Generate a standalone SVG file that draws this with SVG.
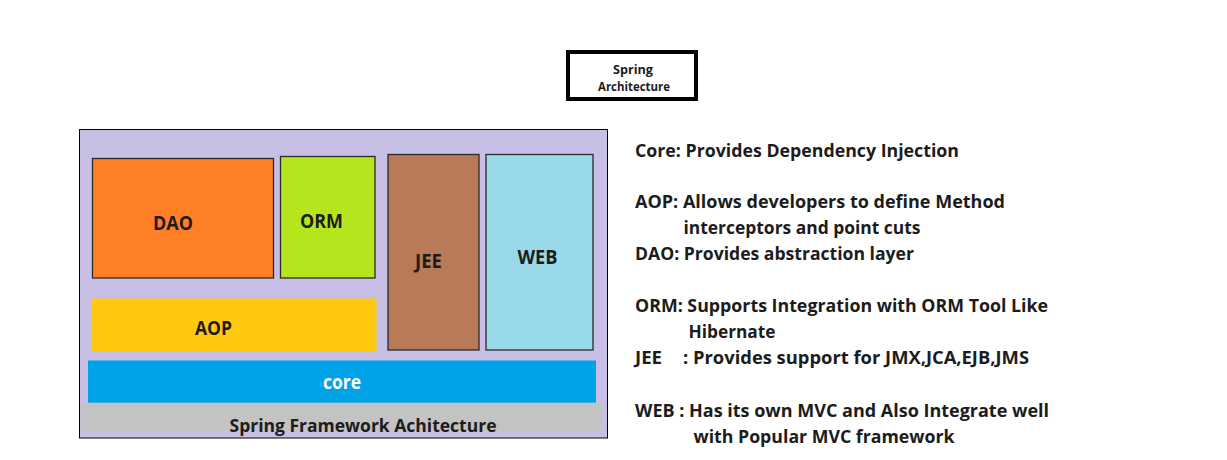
<svg xmlns="http://www.w3.org/2000/svg" width="1227" height="460" viewBox="0 0 1227 460">
<style>
text{font-family:"Open Sans","Noto Sans","Liberation Sans",sans-serif;font-weight:700;fill:#1c1c1c}
.lbl{font-size:20px;text-anchor:middle}
.desc{font-size:17px}
.ttl{font-size:12.5px;text-anchor:middle}
.box{stroke:#2a2a2a;stroke-width:1.3}
</style>
<rect x="0" y="0" width="1227" height="460" fill="#ffffff"/>
<g id="title">
<rect x="568" y="52" width="128" height="47" fill="#ffffff" stroke="#000000" stroke-width="4"/>
<text class="ttl" x="633" y="74" textLength="40" lengthAdjust="spacingAndGlyphs">Spring</text>
<text class="ttl" x="634" y="91" textLength="72" lengthAdjust="spacingAndGlyphs">Architecture</text>
</g>
<g id="frame">
<rect x="79.5" y="129.5" width="528" height="308.5" fill="#C8BFE7" stroke="#000000" stroke-width="1"/>
</g>
<g id="footer">
<rect x="80.5" y="402.7" width="521" height="28" fill="#C3C3C3"/>
<text class="lbl" x="363" y="431.5" style="font-size:18px" textLength="267" lengthAdjust="spacingAndGlyphs">Spring Framework Achitecture</text>
</g>
<g id="core">
<rect x="88" y="360.5" width="508" height="42.2" fill="#00A2E8"/>
<text class="lbl" x="342" y="389" style="fill:#ffffff" textLength="38" lengthAdjust="spacingAndGlyphs">core</text>
</g>
<g id="aop">
<rect x="91" y="298.5" width="285.5" height="52.5" fill="#FFC90E"/>
<text class="lbl" x="213.5" y="335" textLength="37" lengthAdjust="spacingAndGlyphs">AOP</text>
</g>
<g id="dao">
<rect class="box" x="92.5" y="158.5" width="181" height="119.5" fill="#FF7F27"/>
<text class="lbl" x="173" y="230" textLength="40" lengthAdjust="spacingAndGlyphs">DAO</text>
</g>
<g id="orm">
<rect class="box" x="280.5" y="156.5" width="94.5" height="121.5" fill="#B5E61D"/>
<text class="lbl" x="321.5" y="228" textLength="43" lengthAdjust="spacingAndGlyphs">ORM</text>
</g>
<g id="jee">
<rect class="box" x="388" y="154.5" width="91" height="195.5" fill="#B97A57"/>
<text class="lbl" x="428.5" y="268" textLength="27" lengthAdjust="spacingAndGlyphs">JEE</text>
</g>
<g id="web">
<rect class="box" x="486" y="154.5" width="107" height="195.5" fill="#99D9EA"/>
<text class="lbl" x="537.5" y="264" textLength="40" lengthAdjust="spacingAndGlyphs">WEB</text>
</g>
<g id="connectors"></g>
<g id="descriptions">
<text class="desc" x="635" y="157" textLength="324" lengthAdjust="spacingAndGlyphs">Core: Provides Dependency Injection</text>
<text class="desc" x="635" y="208" textLength="370" lengthAdjust="spacingAndGlyphs">AOP: Allows developers to define Method</text>
<text class="desc" x="683.5" y="234" textLength="237" lengthAdjust="spacingAndGlyphs">interceptors and point cuts</text>
<text class="desc" x="635" y="260" textLength="279" lengthAdjust="spacingAndGlyphs">DAO: Provides abstraction layer</text>
<text class="desc" x="635" y="312" textLength="413" lengthAdjust="spacingAndGlyphs">ORM: Supports Integration with ORM Tool Like</text>
<text class="desc" x="688.5" y="338" textLength="87" lengthAdjust="spacingAndGlyphs">Hibernate</text>
<text class="desc" x="635" y="364"><tspan textLength="27" lengthAdjust="spacingAndGlyphs">JEE</tspan><tspan x="683" textLength="346" lengthAdjust="spacingAndGlyphs">: Provides support for JMX,JCA,EJB,JMS</tspan></text>
<text class="desc" x="635" y="416.5" textLength="414" lengthAdjust="spacingAndGlyphs">WEB : Has its own MVC and Also Integrate well</text>
<text class="desc" x="693.5" y="443" textLength="261" lengthAdjust="spacingAndGlyphs">with Popular MVC framework</text>
</g>
</svg>
